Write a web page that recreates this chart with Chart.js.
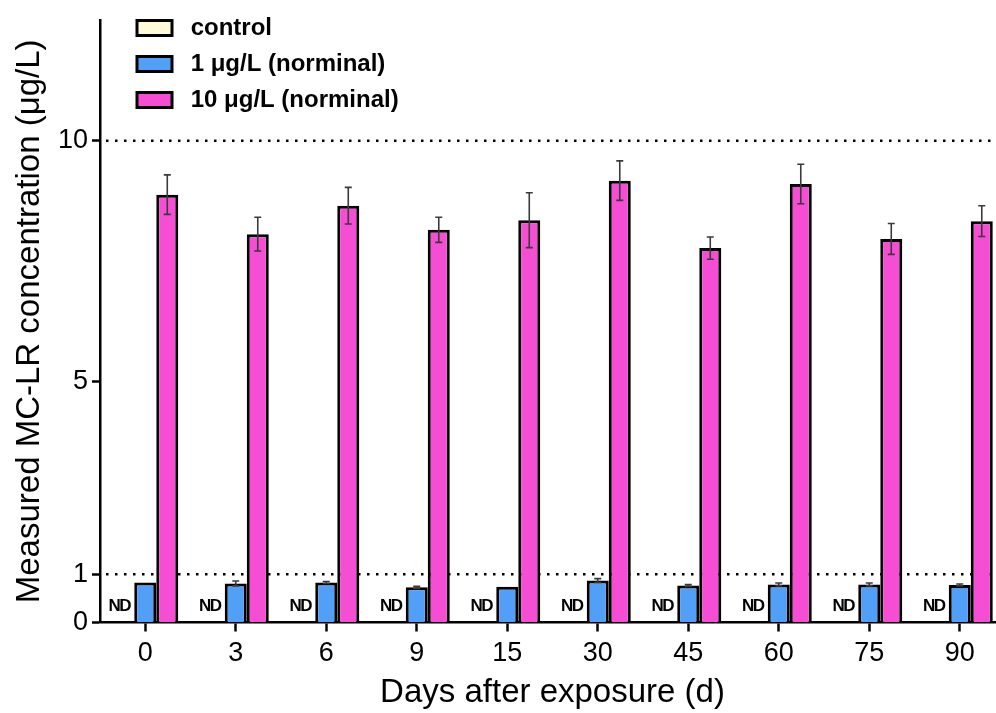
<!DOCTYPE html>
<html>
<head>
<meta charset="utf-8">
<script src="https://cdn.jsdelivr.net/npm/chart.js@4.4.1/dist/chart.umd.min.js"></script>
<style>
  html, body { margin: 0; padding: 0; background: #fff; overflow: hidden; }
  #wrap { width: 996px; height: 713px; overflow: hidden; }
  canvas { display: block; }
</style>
</head>
<body>
<div id="wrap"><canvas id="c" width="1008" height="713"></canvas></div>
<script>
// ---- data ----
const categories = ['0', '3', '6', '9', '15', '30', '45', '60', '75', '90'];
const seriesLabels = ['control', '1 \u03bcg/L (norminal)', '10 \u03bcg/L (norminal)'];
const controlValues = [0, 0, 0, 0, 0, 0, 0, 0, 0, 0];            // not detected
const controlNotes = ['ND', 'ND', 'ND', 'ND', 'ND', 'ND', 'ND', 'ND', 'ND', 'ND'];
const lowValues = [0.83, 0.81, 0.83, 0.73, 0.74, 0.87, 0.77, 0.79, 0.79, 0.78];
const lowErrors = [0.00, 0.05, 0.02, 0.02, 0.00, 0.04, 0.02, 0.03, 0.03, 0.02];
const highValues = [8.88, 8.06, 8.65, 8.15, 8.35, 9.17, 7.77, 9.10, 7.96, 8.33];
const highErrors = [0.41, 0.35, 0.38, 0.26, 0.57, 0.41, 0.23, 0.41, 0.32, 0.32];
const yTickValues = [0, 1, 5, 10];
const referenceLines = [1, 10];

const FONT = "'Liberation Sans', Arial, Helvetica, sans-serif";
const colors = { control: '#FFFBD8', low: '#529FF7', high: '#F54ED5' };

const errorArrays = [null, lowErrors, highErrors];

const refLinePlugin = {
  id: 'refLines',
  beforeDatasetsDraw(chart) {
    const { ctx, chartArea, scales } = chart;
    ctx.save();
    ctx.strokeStyle = '#000';
    ctx.lineWidth = 2.5;
    ctx.setLineDash([2.5, 6.5]);
    referenceLines.forEach(v => {
      const y = scales.y.getPixelForValue(v);
      ctx.beginPath();
      ctx.moveTo(chartArea.left + 6, y);
      ctx.lineTo(chartArea.right, y);
      ctx.stroke();
    });
    ctx.restore();
  }
};

const errorBarPlugin = {
  id: 'errorBars',
  afterDatasetsDraw(chart) {
    const { ctx, scales } = chart;
    ctx.save();
    ctx.strokeStyle = '#3a3a3a';
    ctx.lineWidth = 1.6;
    errorArrays.forEach((errs, di) => {
      if (!errs) return;
      const meta = chart.getDatasetMeta(di);
      const vals = chart.data.datasets[di].data;
      meta.data.forEach((bar, i) => {
        const e = errs[i];
        if (!e) return;
        const x = bar.x;
        const yTop = scales.y.getPixelForValue(vals[i] + e);
        const yBot = scales.y.getPixelForValue(vals[i] - e);
        ctx.beginPath();
        ctx.moveTo(x, yTop); ctx.lineTo(x, yBot);
        ctx.moveTo(x - 3.5, yTop); ctx.lineTo(x + 3.5, yTop);
        ctx.moveTo(x - 3.5, yBot); ctx.lineTo(x + 3.5, yBot);
        ctx.stroke();
      });
    });
    ctx.restore();
  }
};

const ndPlugin = {
  id: 'ndLabels',
  afterDatasetsDraw(chart) {
    const { ctx, scales } = chart;
    const meta = chart.getDatasetMeta(0);
    ctx.save();
    ctx.fillStyle = '#000';
    ctx.font = 'bold 17px ' + FONT;
    ctx.textAlign = 'center';
    ctx.textBaseline = 'middle';
    try { ctx.letterSpacing = '-1.5px'; } catch (e) {}
    meta.data.forEach((bar, i) => {
      const y = scales.y.getPixelForValue(0) - 16.5;
      ctx.fillText(controlNotes[i], bar.x - 4, y);
    });
    ctx.restore();
  }
};

const legendMovePlugin = {
  id: 'legendMove',
  afterLayout(chart) {
    const lg = chart.legend;
    if (!lg) return;
    const pad = lg.options.labels.padding;
    const w = lg.width, h = lg.height;
    lg.left = 137 - pad;
    lg.top = 16 - pad;
    lg.right = lg.left + w;
    lg.bottom = lg.top + h;
  }
};

new Chart(document.getElementById('c'), {
  type: 'bar',
  data: {
    labels: categories,
    datasets: [
      { label: seriesLabels[0], data: controlValues, backgroundColor: colors.control, borderColor: '#000', borderWidth: 3 },
      { label: seriesLabels[1], data: lowValues, backgroundColor: colors.low, borderColor: '#000', borderWidth: 3 },
      { label: seriesLabels[2], data: highValues, backgroundColor: colors.high, borderColor: '#000', borderWidth: 3 }
    ]
  },
  plugins: [refLinePlugin, errorBarPlugin, ndPlugin, legendMovePlugin],
  options: {
    responsive: false,
    animation: false,
    devicePixelRatio: 1,
    layout: { padding: { top: 19.4, right: 3, left: 0, bottom: 0 } },
    datasets: { bar: { barPercentage: 1.0, categoryPercentage: 0.73 } },
    plugins: {
      tooltip: { enabled: false },
      legend: {
        position: 'chartArea',
        align: 'start',
        labels: {
          boxWidth: 35,
          boxHeight: 15,
          padding: 12,
          color: '#000',
          font: { family: FONT, size: 24, weight: 'bold' },
          generateLabels(chart) {
            return chart.data.datasets.map((ds, i) => ({
              text: ' ' + ds.label,
              fillStyle: ds.backgroundColor,
              strokeStyle: '#000',
              lineWidth: 3,
              hidden: false,
              datasetIndex: i
            }));
          }
        }
      }
    },
    scales: {
      x: {
        afterFit(s) { s.height = 90.5; },
        grid: { display: true, drawOnChartArea: false, drawTicks: true, tickLength: 9, tickWidth: 2.5, tickColor: '#000', offset: false },
        border: { display: true, color: '#000', width: 2.5 },
        ticks: { color: '#000', font: { family: FONT, size: 27 }, padding: 6, maxRotation: 0 },
        title: { display: true, text: 'Days after exposure (d)', color: '#000', font: { family: FONT, size: 33 }, padding: { top: 0, bottom: 0 } }
      },
      y: {
        min: 0,
        max: 12.5,
        afterFit(s) { s.width = 100; },
        afterBuildTicks(s) { s.ticks = yTickValues.map(v => ({ value: v })); },
        grid: { display: true, drawOnChartArea: false, drawTicks: true, tickLength: 8, tickWidth: 2.5, tickColor: '#000' },
        border: { display: true, color: '#000', width: 2.5 },
        ticks: { color: '#000', font: { family: FONT, size: 27 }, padding: 4 },
        title: { display: true, text: 'Measured MC-LR concentration (\u03bcg/L)', color: '#000', font: { family: FONT, size: 33 }, padding: { top: 10, bottom: 0 } }
      }
    }
  }
});
</script>
</body>
</html>
